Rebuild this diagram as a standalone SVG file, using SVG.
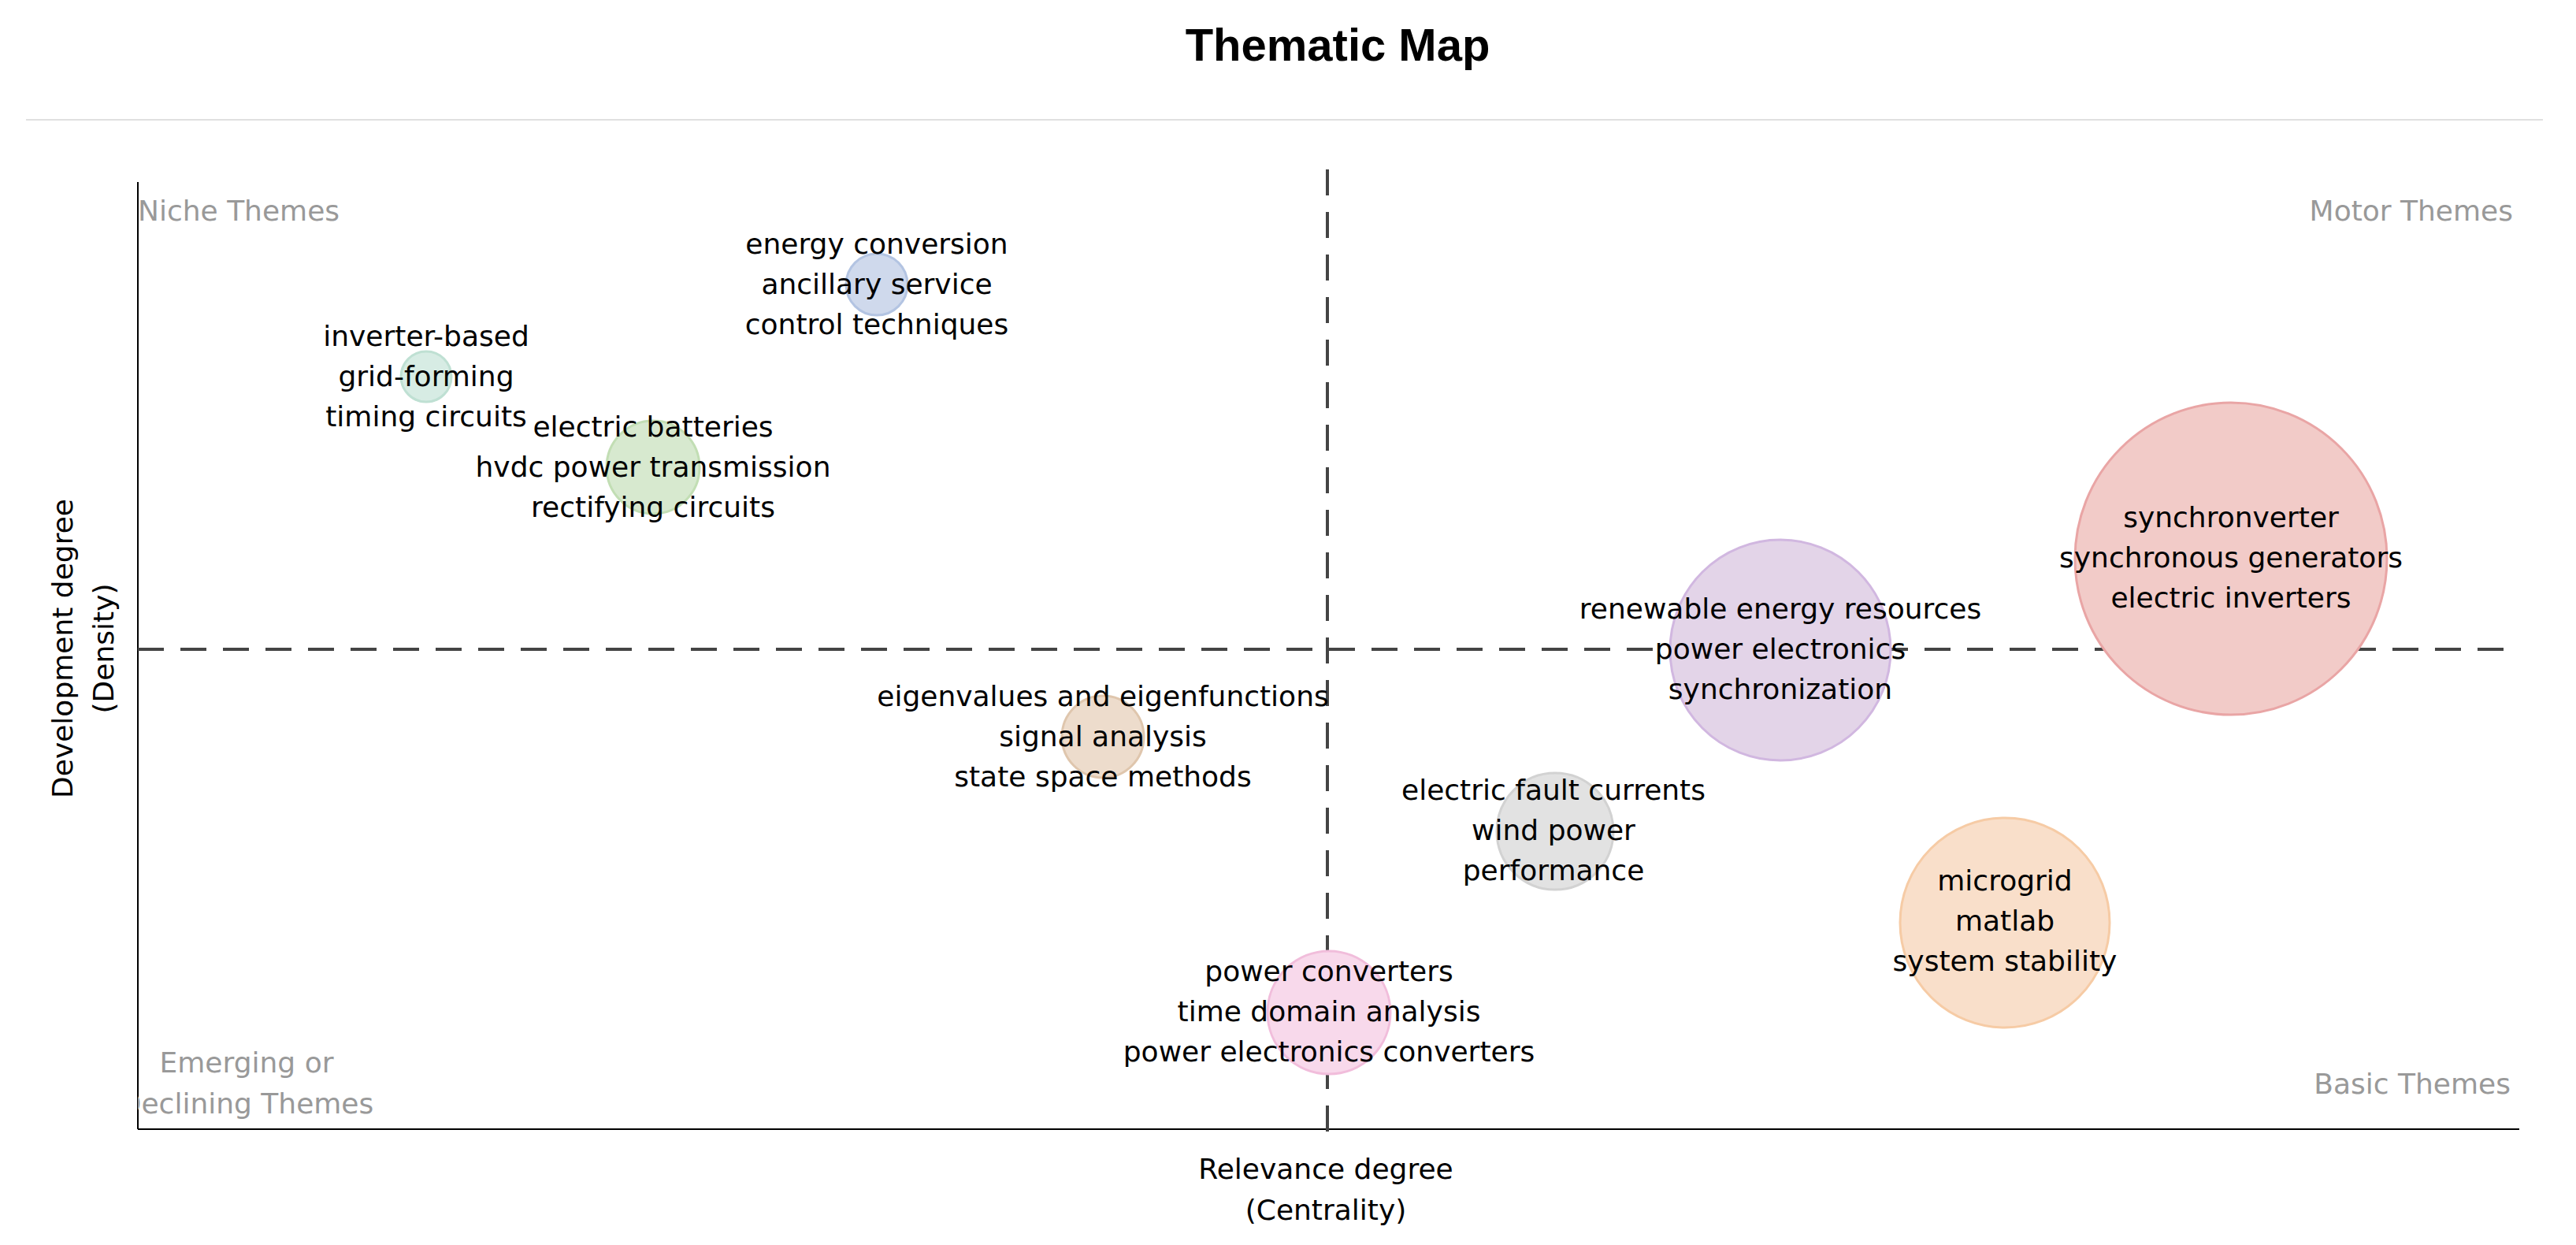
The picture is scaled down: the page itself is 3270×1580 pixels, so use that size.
<svg xmlns="http://www.w3.org/2000/svg" width="3270" height="1580" viewBox="0 0 3270 1580">
<style>
text{font-family:"DejaVu Sans",Verdana,sans-serif;font-size:36px;fill:#000}
.lbl{text-anchor:middle;dominant-baseline:central}
.corner{fill:#999999;dominant-baseline:central}
.dash{stroke:#444;stroke-width:4;stroke-dasharray:33 21;fill:none}
.axis{stroke:#000;stroke-width:2;fill:none}
.b{stroke-width:3}
</style>
<defs><clipPath id="plot"><rect x="175" y="200" width="3040" height="1240"/></clipPath></defs>
<rect width="3270" height="1580" fill="#fff"/>
<text x="1698" y="56" text-anchor="middle" dominant-baseline="central" style="font-family:'Liberation Sans',Arial,sans-serif;font-weight:bold;font-size:58px">Thematic Map</text>
<line x1="33" y1="152" x2="3228" y2="152" stroke="#e0e0e0" stroke-width="2"/>
<g id="axes">
<line class="axis" x1="175" y1="231" x2="175" y2="1433"/>
<line class="axis" x1="175" y1="1433" x2="3198" y2="1433"/>
<text x="1683" y="1483" class="lbl">Relevance degree</text>
<text x="1683" y="1535" class="lbl">(Centrality)</text>
<text class="lbl" transform="translate(79,823) rotate(-90)">Development degree</text>
<text class="lbl" transform="translate(131,823) rotate(-90)">(Density)</text>
</g>
<g id="corners" clip-path="url(#plot)">
<text class="corner" x="175" y="267">Niche Themes</text>
<text class="corner" x="3190" y="267" text-anchor="end">Motor Themes</text>
<text class="corner" x="313" y="1348" text-anchor="middle">Emerging or</text>
<text class="corner" x="313" y="1400" text-anchor="middle">Declining Themes</text>
<text class="corner" x="3187" y="1375" text-anchor="end">Basic Themes</text>
</g>
<g id="connectors">
<line class="dash" x1="1685" y1="215" x2="1685" y2="1455"/>
<line class="dash" x1="175" y1="824" x2="3198" y2="824"/>
</g>
<g id="n-blue"><circle class="b" cx="1113" cy="361" r="39" fill="#cfd9ec" stroke="#b3c4e2"/>
<text class="lbl" x="1113" y="309">energy conversion</text><text class="lbl" x="1113" y="360">ancillary service</text><text class="lbl" x="1113" y="411">control techniques</text></g>
<g id="n-teal"><circle class="b" cx="541" cy="478" r="32" fill="#d7ece4" stroke="#bfe0d3"/>
<text class="lbl" x="541" y="426">inverter-based</text><text class="lbl" x="541" y="477">grid-forming</text><text class="lbl" x="541" y="528">timing circuits</text></g>
<g id="n-green"><circle class="b" cx="829" cy="593" r="59" fill="#d7e9cf" stroke="#c2deb4"/>
<text class="lbl" x="829" y="541">electric batteries</text><text class="lbl" x="829" y="592">hvdc power transmission</text><text class="lbl" x="829" y="643">rectifying circuits</text></g>
<g id="n-tan"><circle class="b" cx="1400" cy="935" r="52" fill="#eddccc" stroke="#dfc6ad"/>
<text class="lbl" x="1400" y="883">eigenvalues and eigenfunctions</text><text class="lbl" x="1400" y="934">signal analysis</text><text class="lbl" x="1400" y="985">state space methods</text></g>
<g id="n-pink"><circle class="b" cx="1687" cy="1285" r="78" fill="#f8d9eb" stroke="#f1bddb"/>
<text class="lbl" x="1687" y="1232">power converters</text><text class="lbl" x="1687" y="1283">time domain analysis</text><text class="lbl" x="1687" y="1334">power electronics converters</text></g>
<g id="n-gray"><circle class="b" cx="1974" cy="1055" r="74" fill="#e2e2e2" stroke="#d2d2d2"/>
<text class="lbl" x="1972" y="1002">electric fault currents</text><text class="lbl" x="1972" y="1053">wind power</text><text class="lbl" x="1972" y="1104">performance</text></g>
<g id="n-purple"><circle class="b" cx="2260" cy="825" r="140" fill="#e3d4e8" stroke="#d1b7e0"/>
<text class="lbl" x="2260" y="772">renewable energy resources</text><text class="lbl" x="2260" y="823">power electronics</text><text class="lbl" x="2260" y="874">synchronization</text></g>
<g id="n-red"><circle class="b" cx="2832" cy="709" r="198" fill="#f2cbc8" stroke="#e9a5a5"/>
<text class="lbl" x="2832" y="656">synchronverter</text><text class="lbl" x="2832" y="707">synchronous generators</text><text class="lbl" x="2832" y="758">electric inverters</text></g>
<g id="n-orange"><circle class="b" cx="2545" cy="1171" r="133" fill="#f9dfca" stroke="#f6cba5"/>
<text class="lbl" x="2545" y="1117">microgrid</text><text class="lbl" x="2545" y="1168">matlab</text><text class="lbl" x="2545" y="1219">system stability</text></g>
</svg>
